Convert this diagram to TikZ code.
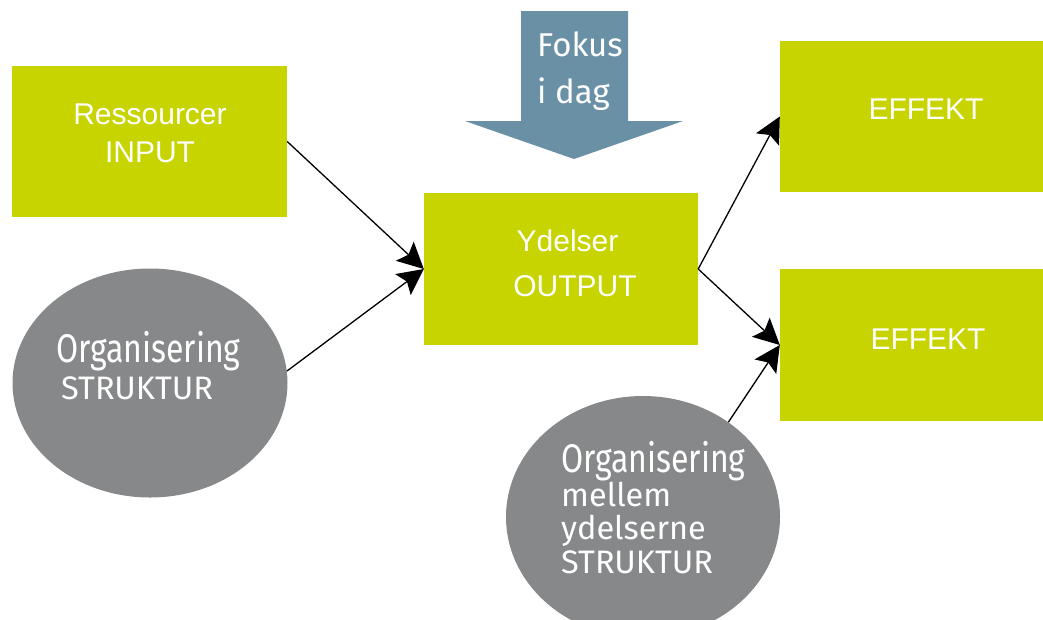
\documentclass[tikz,border=0pt]{standalone}
\usepackage{fontspec}
\setmainfont{Liberation Sans}
\newfontfamily\orgfont[FakeStretch=0.8]{Fira Sans}
\newfontfamily\grayfont{Fira Sans}
\usetikzlibrary{arrows.meta,shapes.geometric}
\definecolor{lime}{RGB}{200,212,0}
\definecolor{stone}{RGB}{135,136,138}
\definecolor{steel}{RGB}{106,144,166}
\tikzset{
  box/.style={rectangle, fill=lime, draw=none, inner sep=0pt},
  blob/.style={ellipse, fill=stone, draw=none, inner sep=0pt},
  boxtxt/.style={anchor=base, inner sep=0pt, text=white, font=\fontsize{30}{36}\selectfont},
  bigorg/.style={anchor=base west, inner sep=0pt, text=white, font=\orgfont\fontsize{40}{44}\selectfont},
  graytxt/.style={anchor=base west, inner sep=0pt, text=white, font=\grayfont\fontsize{32.5}{36}\selectfont},
  fokustxt/.style={anchor=base west, inner sep=0pt, text=white, font=\grayfont\fontsize{33}{38}\selectfont},
  conn/.style={draw=black, line width=1.3pt, -{Stealth[length=26pt,width=26pt,inset=5pt]}}
}
\begin{document}
\begin{tikzpicture}[x=1pt,y=-1pt]
\useasboundingbox (0,0) rectangle (1043,619);
\clip (0,0) rectangle (1043,619);
\fill[white] (0,0) rectangle (1043,619);

% boxes
\node[box, minimum width=275pt, minimum height=151pt] (inp) at (149.5,141.5) {};
\node[box, minimum width=274pt, minimum height=152pt] (outp) at (561,269) {};
\node[box, minimum width=263pt, minimum height=151pt] (eff1) at (911.5,116.5) {};
\node[box, minimum width=263pt, minimum height=152pt] (eff2) at (911.5,345) {};

% ellipses
\node[blob, minimum width=275pt, minimum height=229pt] (e1) at (150,383) {};
\node[blob, minimum width=274pt, minimum height=242pt] (e2) at (643,517) {};

% focus arrow
\fill[steel] (521,11) -- (628,11) -- (628,121) -- (683,121) -- (574,159) -- (465,121) -- (521,121) -- cycle;
\node[fokustxt] (fok1) at (537,56) {Fokus};
\node[fokustxt] (fok2) at (537,103) {i dag};

% box texts
\node[boxtxt] (inp1) at (150,124) {Ressourcer};
\node[boxtxt] (inp2) at (150,162) {INPUT};
\node[boxtxt] (out1) at (567.5,251) {Ydelser};
\node[boxtxt] (out2) at (575,296) {OUTPUT};
\node[boxtxt] (eff1t) at (926,119) {EFFEKT};
\node[boxtxt] (eff2t) at (928,349) {EFFEKT};

% ellipse texts
\node[bigorg] (e1a) at (56,362) {Organisering};
\node[graytxt] (e1b) at (61,399) {STRUKTUR};
\node[bigorg] (e2a) at (561,472) {Organisering};
\node[graytxt] (e2b) at (561,506) {mellem};
\node[graytxt] (e2c) at (561,539) {ydelserne};
\node[graytxt] (e2d) at (561,573) {STRUKTUR};

% connectors
\draw[conn] (inp.east) -- (outp.west);
\draw[conn] (e1.5) -- (outp.west);
\draw[conn] (outp.east) -- (eff1.west);
\draw[conn] (outp.east) -- (eff2.west);
\draw[conn] (e2.48) -- (eff2.west);
\end{tikzpicture}
\end{document}
